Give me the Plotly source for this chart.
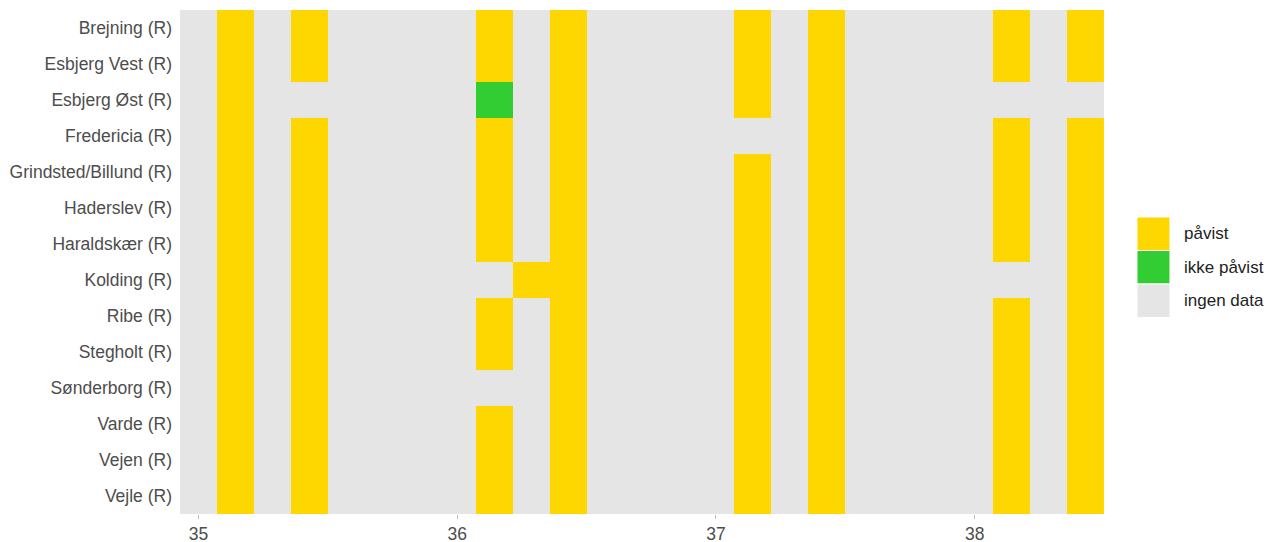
"""
Wastewater detection heatmap per treatment plant and week.
"""
import plotly.graph_objects as go

sites = [
    "Brejning (R)", "Esbjerg Vest (R)", "Esbjerg Øst (R)", "Fredericia (R)",
    "Grindsted/Billund (R)", "Haderslev (R)", "Haraldskær (R)", "Kolding (R)",
    "Ribe (R)", "Stegholt (R)", "Sønderborg (R)", "Varde (R)", "Vejen (R)",
    "Vejle (R)",
]

# decimal week of each sampling day
weeks = [
    35.000, 35.143, 35.286, 35.429, 35.571, 35.714, 35.857,
    36.000, 36.143, 36.286, 36.429, 36.571, 36.714, 36.857,
    37.000, 37.143, 37.286, 37.429, 37.571, 37.714, 37.857,
    38.000, 38.143, 38.286, 38.429,
]

# P = påvist, I = ikke påvist, . = ingen data (one char per day in weeks)
status = {
    "Brejning (R)":          ".P.P....P.P....P.P....P.P",
    "Esbjerg Vest (R)":      ".P.P....P.P....P.P....P.P",
    "Esbjerg Øst (R)":       ".P......I.P....P.P.......",
    "Fredericia (R)":        ".P.P....P.P......P....P.P",
    "Grindsted/Billund (R)": ".P.P....P.P....P.P....P.P",
    "Haderslev (R)":         ".P.P....P.P....P.P....P.P",
    "Haraldskær (R)":        ".P.P....P.P....P.P....P.P",
    "Kolding (R)":           ".P.P.....PP....P.P......P",
    "Ribe (R)":              ".P.P....P.P....P.P....P.P",
    "Stegholt (R)":          ".P.P....P.P....P.P....P.P",
    "Sønderborg (R)":        ".P.P......P....P.P....P.P",
    "Varde (R)":             ".P.P....P.P....P.P....P.P",
    "Vejen (R)":             ".P.P....P.P....P.P....P.P",
    "Vejle (R)":             ".P.P....P.P....P.P....P.P",
}

x_ticks = [35, 36, 37, 38]
legend_labels = ["påvist", "ikke påvist", "ingen data"]

GREY = "#E5E5E5"
YELLOW = "#FFD700"
GREEN = "#32CD32"
codes = {".": 0, "P": 1, "I": 2}

z = [[codes[c] for c in status[s]] for s in sites]

colorscale = [
    [0.0, GREY], [0.333, GREY],
    [0.333, YELLOW], [0.667, YELLOW],
    [0.667, GREEN], [1.0, GREEN],
]

fig = go.Figure(go.Heatmap(
    x=weeks, y=sites, z=z, zmin=0, zmax=2,
    colorscale=colorscale, showscale=False,
    hovertemplate="%{y}<br>uge %{x}<extra></extra>",
))

fig.update_xaxes(
    range=[34.9286, 38.5], tickvals=x_ticks, showgrid=False, zeroline=False,
    ticks="outside", ticklen=4, tickcolor="#BBBBBB",
    tickfont=dict(size=17.5, color="#4D4D4D"),
)
fig.update_yaxes(
    autorange="reversed", showgrid=False, zeroline=False,
    ticklabelstandoff=7, tickfont=dict(size=17.5, color="#4D4D4D"),
)

# hand-drawn legend to the right of the panel
key_colors = [YELLOW, GREEN, GREY]
key_top = [0.5893, 0.5228, 0.4563]
key_h = 0.0665
for label, col, top in zip(legend_labels, key_colors, key_top):
    fig.add_shape(type="rect", xref="paper", yref="paper",
                  x0=1.0357, x1=1.0714, y0=top - key_h, y1=top,
                  fillcolor=col, line=dict(color="white", width=1))
    fig.add_annotation(x=1.0844, y=top - key_h / 2, xref="paper", yref="paper",
                       text=label, showarrow=False, xanchor="left",
                       font=dict(size=17, color="#222222"))

# page body adds 8px, so margins are shifted to keep the panel in place
fig.update_layout(
    width=1274, height=542,
    margin=dict(l=172, r=178, t=2, b=36),
    plot_bgcolor="white", paper_bgcolor="white",
    font=dict(family="Liberation Sans, Arial, sans-serif"),
)

fig.write_html("out.html")
